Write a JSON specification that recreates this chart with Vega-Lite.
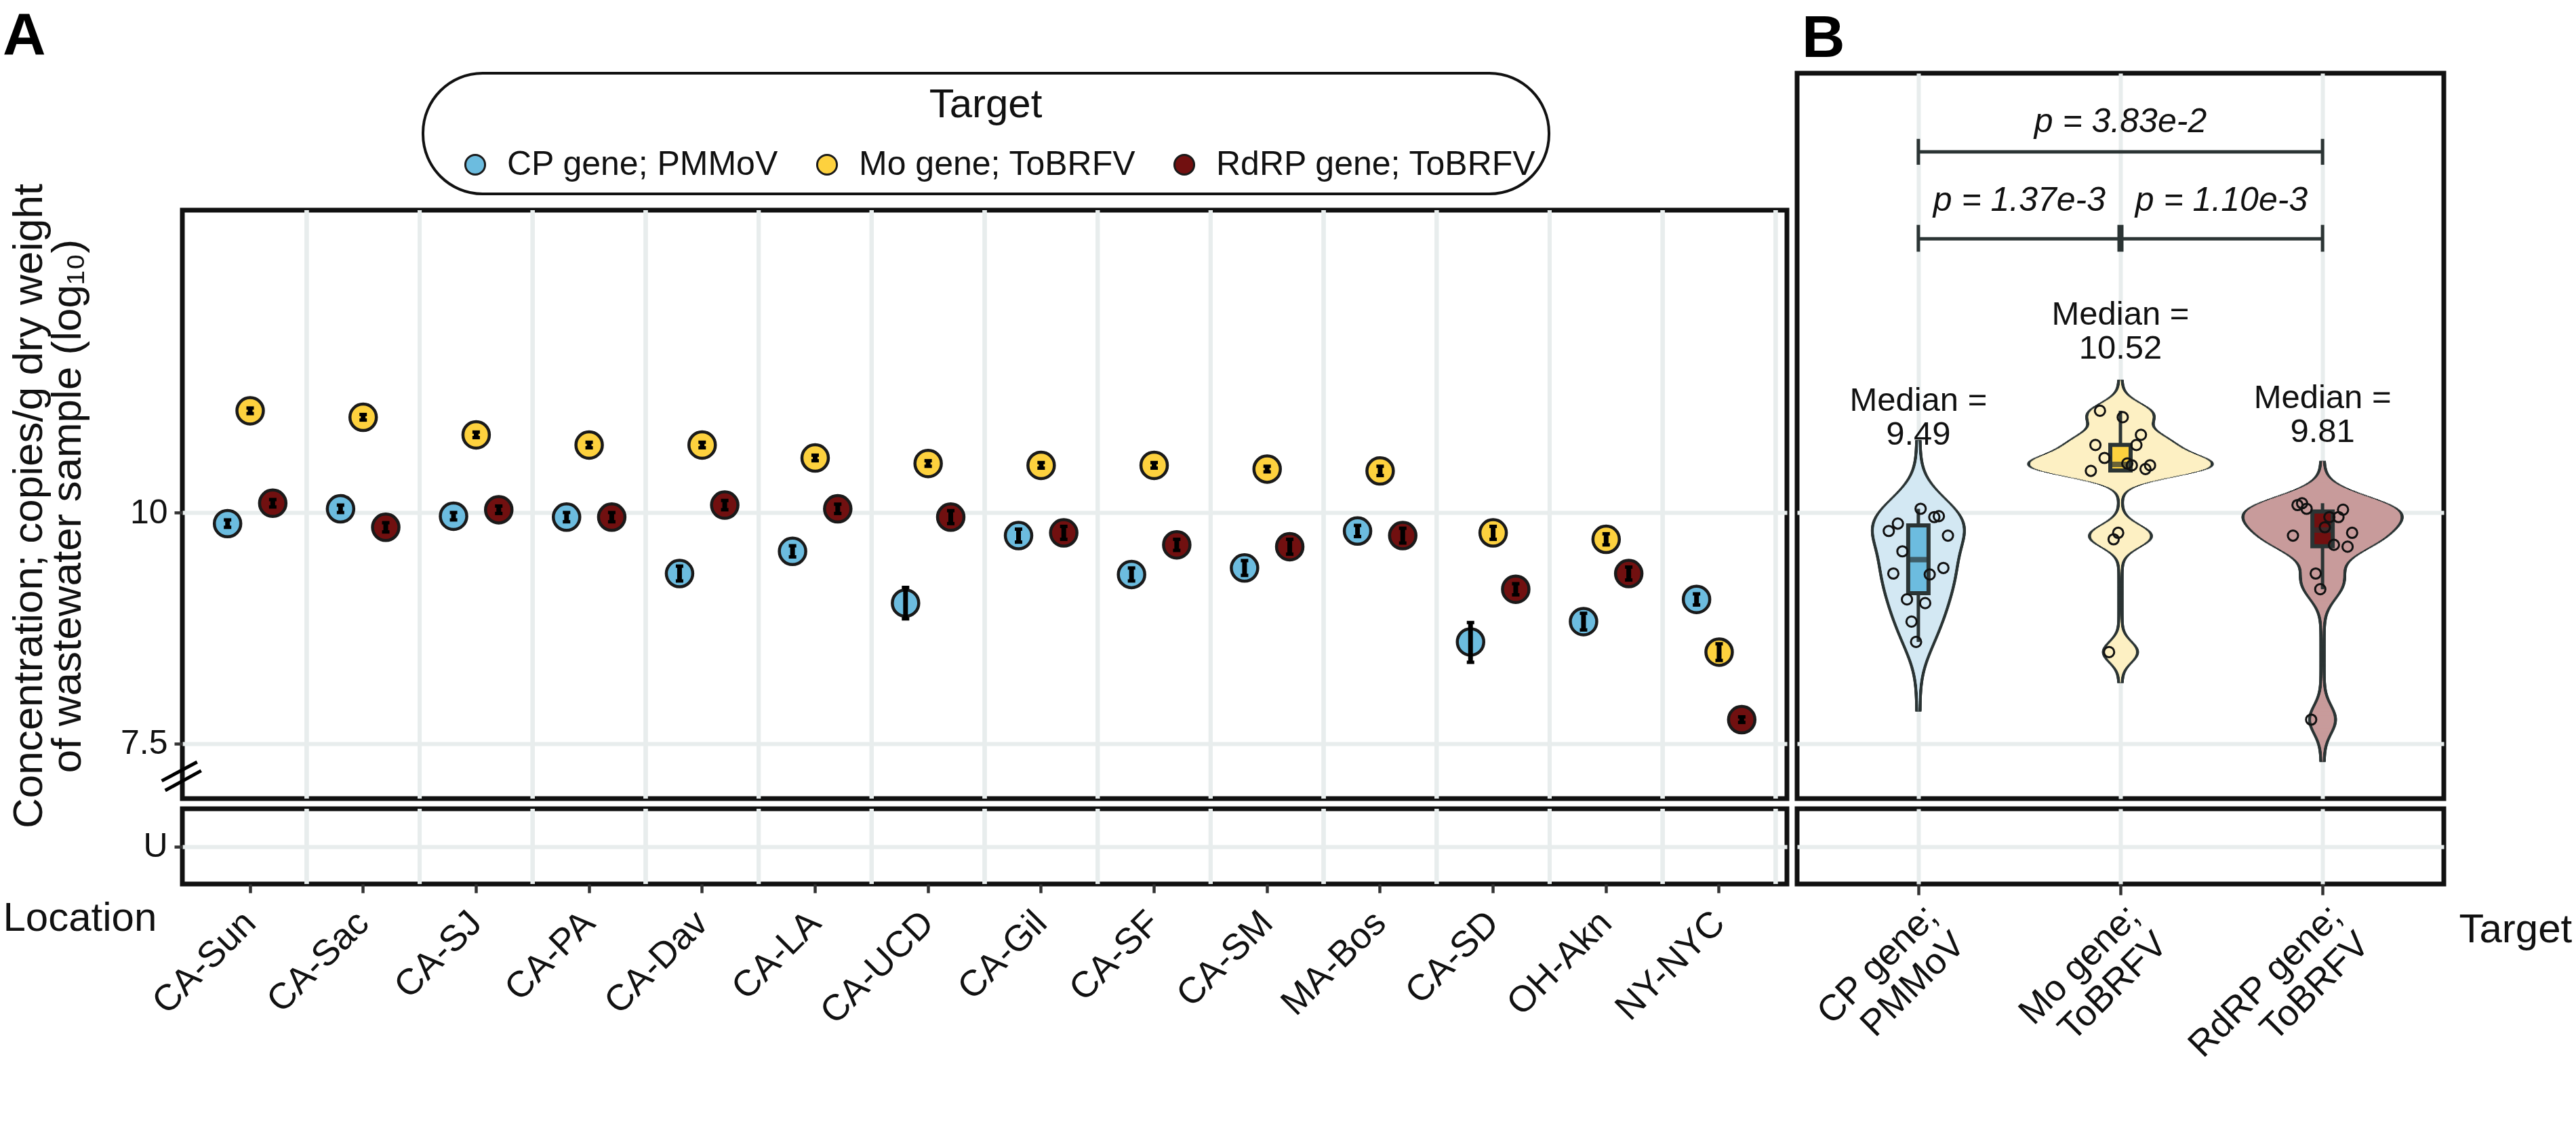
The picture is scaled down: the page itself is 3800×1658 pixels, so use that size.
{
  "$schema": "https://vega.github.io/schema/vega-lite/v6.json",
  "padding": {"left": 0, "top": 10, "right": 0, "bottom": 0},
  "background": "white",
  "config": {
    "font": "Liberation Sans",
    "view": {"stroke": "#111111", "strokeWidth": 7},
    "axis": {"labelFont": "Liberation Sans", "labelFontSize": 50, "labelColor": "#111111", "labelLimit": 1000, "titleFont": "Liberation Sans", "titleFontSize": 60, "titleFontWeight": "normal", "titleColor": "#111111", "titleLimit": 3000, "tickColor": "#333333", "tickWidth": 4.5, "domain": false, "gridColor": "#e8eded", "gridWidth": 6},
    "legend": {"strokeColor": "#111111", "strokeWidth": 4, "cornerRadius": 88, "padding": 18, "fillColor": "white", "labelFont": "Liberation Sans", "titleFont": "Liberation Sans"},
    "title": {"font": "Liberation Sans"}
  },
  "datasets": {
    "conc": [
      {"Location": "CA-Sun", "Target": "CP gene; PMMoV", "Conc": 9.88, "Lo": 9.84, "Hi": 9.92},
      {"Location": "CA-Sun", "Target": "Mo gene; ToBRFV", "Conc": 11.10, "Lo": 11.07, "Hi": 11.13},
      {"Location": "CA-Sun", "Target": "RdRP gene; ToBRFV", "Conc": 10.10, "Lo": 10.06, "Hi": 10.14},
      {"Location": "CA-Sac", "Target": "CP gene; PMMoV", "Conc": 10.04, "Lo": 10.00, "Hi": 10.08},
      {"Location": "CA-Sac", "Target": "Mo gene; ToBRFV", "Conc": 11.03, "Lo": 11.00, "Hi": 11.06},
      {"Location": "CA-Sac", "Target": "RdRP gene; ToBRFV", "Conc": 9.84, "Lo": 9.79, "Hi": 9.89},
      {"Location": "CA-SJ", "Target": "CP gene; PMMoV", "Conc": 9.96, "Lo": 9.92, "Hi": 10.00},
      {"Location": "CA-SJ", "Target": "Mo gene; ToBRFV", "Conc": 10.84, "Lo": 10.81, "Hi": 10.87},
      {"Location": "CA-SJ", "Target": "RdRP gene; ToBRFV", "Conc": 10.03, "Lo": 9.99, "Hi": 10.07},
      {"Location": "CA-PA", "Target": "CP gene; PMMoV", "Conc": 9.95, "Lo": 9.90, "Hi": 10.00},
      {"Location": "CA-PA", "Target": "Mo gene; ToBRFV", "Conc": 10.73, "Lo": 10.70, "Hi": 10.76},
      {"Location": "CA-PA", "Target": "RdRP gene; ToBRFV", "Conc": 9.95, "Lo": 9.90, "Hi": 10.00},
      {"Location": "CA-Dav", "Target": "CP gene; PMMoV", "Conc": 9.34, "Lo": 9.26, "Hi": 9.42},
      {"Location": "CA-Dav", "Target": "Mo gene; ToBRFV", "Conc": 10.73, "Lo": 10.70, "Hi": 10.76},
      {"Location": "CA-Dav", "Target": "RdRP gene; ToBRFV", "Conc": 10.08, "Lo": 10.03, "Hi": 10.13},
      {"Location": "CA-LA", "Target": "CP gene; PMMoV", "Conc": 9.58, "Lo": 9.52, "Hi": 9.64},
      {"Location": "CA-LA", "Target": "Mo gene; ToBRFV", "Conc": 10.59, "Lo": 10.56, "Hi": 10.62},
      {"Location": "CA-LA", "Target": "RdRP gene; ToBRFV", "Conc": 10.04, "Lo": 9.99, "Hi": 10.09},
      {"Location": "CA-UCD", "Target": "CP gene; PMMoV", "Conc": 9.02, "Lo": 8.85, "Hi": 9.19},
      {"Location": "CA-UCD", "Target": "Mo gene; ToBRFV", "Conc": 10.53, "Lo": 10.50, "Hi": 10.56},
      {"Location": "CA-UCD", "Target": "RdRP gene; ToBRFV", "Conc": 9.95, "Lo": 9.88, "Hi": 10.02},
      {"Location": "CA-Gil", "Target": "CP gene; PMMoV", "Conc": 9.75, "Lo": 9.68, "Hi": 9.82},
      {"Location": "CA-Gil", "Target": "Mo gene; ToBRFV", "Conc": 10.51, "Lo": 10.48, "Hi": 10.54},
      {"Location": "CA-Gil", "Target": "RdRP gene; ToBRFV", "Conc": 9.78, "Lo": 9.71, "Hi": 9.85},
      {"Location": "CA-SF", "Target": "CP gene; PMMoV", "Conc": 9.33, "Lo": 9.26, "Hi": 9.40},
      {"Location": "CA-SF", "Target": "Mo gene; ToBRFV", "Conc": 10.51, "Lo": 10.48, "Hi": 10.54},
      {"Location": "CA-SF", "Target": "RdRP gene; ToBRFV", "Conc": 9.65, "Lo": 9.59, "Hi": 9.71},
      {"Location": "CA-SM", "Target": "CP gene; PMMoV", "Conc": 9.40, "Lo": 9.32, "Hi": 9.48},
      {"Location": "CA-SM", "Target": "Mo gene; ToBRFV", "Conc": 10.47, "Lo": 10.44, "Hi": 10.50},
      {"Location": "CA-SM", "Target": "RdRP gene; ToBRFV", "Conc": 9.63, "Lo": 9.55, "Hi": 9.71},
      {"Location": "MA-Bos", "Target": "CP gene; PMMoV", "Conc": 9.80, "Lo": 9.74, "Hi": 9.86},
      {"Location": "MA-Bos", "Target": "Mo gene; ToBRFV", "Conc": 10.45, "Lo": 10.40, "Hi": 10.50},
      {"Location": "MA-Bos", "Target": "RdRP gene; ToBRFV", "Conc": 9.75, "Lo": 9.67, "Hi": 9.83},
      {"Location": "CA-SD", "Target": "CP gene; PMMoV", "Conc": 8.60, "Lo": 8.38, "Hi": 8.81},
      {"Location": "CA-SD", "Target": "Mo gene; ToBRFV", "Conc": 9.78, "Lo": 9.71, "Hi": 9.85},
      {"Location": "CA-SD", "Target": "RdRP gene; ToBRFV", "Conc": 9.17, "Lo": 9.11, "Hi": 9.23},
      {"Location": "OH-Akn", "Target": "CP gene; PMMoV", "Conc": 8.82, "Lo": 8.73, "Hi": 8.91},
      {"Location": "OH-Akn", "Target": "Mo gene; ToBRFV", "Conc": 9.71, "Lo": 9.65, "Hi": 9.77},
      {"Location": "OH-Akn", "Target": "RdRP gene; ToBRFV", "Conc": 9.34, "Lo": 9.27, "Hi": 9.41},
      {"Location": "NY-NYC", "Target": "CP gene; PMMoV", "Conc": 9.06, "Lo": 9.00, "Hi": 9.12},
      {"Location": "NY-NYC", "Target": "Mo gene; ToBRFV", "Conc": 8.49, "Lo": 8.40, "Hi": 8.58},
      {"Location": "NY-NYC", "Target": "RdRP gene; ToBRFV", "Conc": 7.76, "Lo": 7.73, "Hi": 7.79}
    ]
  },
  "spacing": 7,
  "resolve": {"scale": {"color": "independent", "size": "independent", "xOffset": "independent"}},
  "hconcat": [
    {
      "spacing": 15,
      "bounds": "flush",
      "resolve": {"scale": {"color": "independent", "xOffset": "independent"}},
      "vconcat": [
        {
          "width": 2367,
          "height": 187,
          "view": {"stroke": null, "fill": "white"},
          "title": {"text": "A", "anchor": "start", "frame": "group", "orient": "top", "offset": 8, "dx": -265, "fontSize": 88, "fontWeight": "bold", "color": "#000000"},
          "data": {"name": "conc"},
          "mark": {"type": "point", "filled": true, "opacity": 0, "size": 1},
          "encoding": {
            "color": {
              "field": "Target", "type": "nominal",
              "scale": {"domain": ["CP gene; PMMoV", "Mo gene; ToBRFV", "RdRP gene; ToBRFV"], "range": ["#6cbcdf", "#fdd13e", "#711010"]},
              "legend": {"orient": "none", "legendX": 355, "legendY": 0, "direction": "horizontal", "columns": 3, "title": "Target", "titleOrient": "top", "titleAnchor": "middle", "titleFontSize": 60, "titleFontWeight": "normal", "titleColor": "#111111", "titlePadding": 32, "titleLimit": 1000, "labelFontSize": 50, "labelColor": "#111111", "labelOffset": 22, "labelLimit": 1000, "symbolType": "circle", "symbolSize": 850, "symbolStrokeWidth": 3, "symbolStrokeColor": "#1a1a1a", "symbolOpacity": 1, "symbolOffset": 34, "columnPadding": 12}
            }
          }
        },
        {
          "width": 2367,
          "height": 868,
          "data": {"name": "conc"},
          "layer": [
            {
              "mark": {"type": "rule", "color": "#e8eded", "strokeWidth": 6},
              "encoding": {"x": {"field": "Location", "type": "nominal", "bandPosition": 1, "scale": {"type": "band", "domain": ["CA-Sun","CA-Sac","CA-SJ","CA-PA","CA-Dav","CA-LA","CA-UCD","CA-Gil","CA-SF","CA-SM","MA-Bos","CA-SD","OH-Akn","NY-NYC"], "paddingInner": 0, "paddingOuter": 0.1}, "axis": null}}
            },
            {
              "mark": {"type": "point", "filled": true, "size": 1520, "stroke": "#1a1a1a", "strokeWidth": 4.5, "opacity": 1},
              "encoding": {
                "x": {"field": "Location", "type": "nominal", "axis": null},
                "xOffset": {"field": "Target", "type": "nominal", "scale": {"domain": ["CP gene; PMMoV", "Mo gene; ToBRFV", "RdRP gene; ToBRFV"], "paddingInner": 0, "paddingOuter": 2.375}},
                "y": {"field": "Conc", "type": "quantitative", "scale": {"domain": [6.906, 13.27], "nice": false, "zero": false},
                  "axis": {"values": [7.5, 10], "format": "~g", "grid": true, "tickSize": 12, "labelPadding": 10, "title": ["Concentration; copies/g dry weight", "of wastewater sample (log₁₀)"], "titleX": -257, "titleY": 436, "titleAngle": 270, "titleBaseline": "top", "titleAlign": "center", "titleLineHeight": 57, "titleFontSize": 62}},
                "color": {"field": "Target", "type": "nominal", "scale": {"domain": ["CP gene; PMMoV", "Mo gene; ToBRFV", "RdRP gene; ToBRFV"], "range": ["#6cbcdf", "#fdd13e", "#711010"]}, "legend": null}
              }
            },
            {
              "mark": {"type": "rule", "color": "#000000", "strokeWidth": 7},
              "encoding": {
                "x": {"field": "Location", "type": "nominal", "axis": null},
                "xOffset": {"field": "Target", "type": "nominal"},
                "y": {"field": "Lo", "type": "quantitative"},
                "y2": {"field": "Hi"}
              }
            },
            {
              "mark": {"type": "point", "shape": "stroke", "filled": false, "color": "#000000", "size": 121, "strokeWidth": 5, "opacity": 1},
              "encoding": {
                "x": {"field": "Location", "type": "nominal", "axis": null},
                "xOffset": {"field": "Target", "type": "nominal"},
                "y": {"field": "Lo", "type": "quantitative"}
              }
            },
            {
              "mark": {"type": "point", "shape": "stroke", "filled": false, "color": "#000000", "size": 121, "strokeWidth": 5, "opacity": 1},
              "encoding": {
                "x": {"field": "Location", "type": "nominal", "axis": null},
                "xOffset": {"field": "Target", "type": "nominal"},
                "y": {"field": "Hi", "type": "quantitative"}
              }
            },
            {
              "data": {"values": [{}]},
              "mark": {"type": "point", "shape": "M-0.97,0.23L0.77,-0.7M-0.8,0.7L0.97,-0.27", "size": 3600, "filled": false, "color": "#000000", "strokeWidth": 5, "opacity": 1, "xOffset": -18},
              "encoding": {
                "x": {"datum": "CA-Sun", "type": "nominal", "bandPosition": 0, "axis": null},
                "y": {"datum": 7.148, "type": "quantitative"}
              }
            }
          ]
        },
        {
          "width": 2367,
          "height": 111,
          "data": {"name": "conc"},
          "layer": [
            {
              "mark": {"type": "rule", "color": "#e8eded", "strokeWidth": 6},
              "encoding": {"x": {"field": "Location", "type": "nominal", "bandPosition": 1, "scale": {"type": "band", "domain": ["CA-Sun","CA-Sac","CA-SJ","CA-PA","CA-Dav","CA-LA","CA-UCD","CA-Gil","CA-SF","CA-SM","MA-Bos","CA-SD","OH-Akn","NY-NYC"], "paddingInner": 0, "paddingOuter": 0.1}}}
            },
            {
              "mark": {"type": "point", "opacity": 0, "size": 1},
              "encoding": {
                "x": {"field": "Location", "type": "nominal",
                  "axis": {"orient": "bottom", "grid": false, "bandPosition": 0.5, "labelAngle": -45, "labelAlign": "right", "labelBaseline": "middle", "labelFontSize": 54, "labelPadding": 36, "tickSize": 13, "title": "Location", "titleX": -265, "titleY": 68, "titleAlign": "left", "titleBaseline": "alphabetic", "titleAngle": 0}},
                "y": {"datum": "U", "type": "nominal", "axis": {"grid": true, "title": null, "tickSize": 12, "labelPadding": 10, "labelAngle": 0}}
              }
            }
          ]
        }
      ]
    },
    {
      "spacing": 15,
      "bounds": "flush",
      "resolve": {"scale": {"color": "independent", "size": "independent", "xOffset": "independent"}},
      "vconcat": [
        {
          "width": 954,
          "height": 1070,
          "title": {"text": "B", "anchor": "start", "frame": "group", "orient": "top", "offset": 6, "dx": 7, "fontSize": 88, "fontWeight": "bold", "color": "#000000"},
          "data": {"name": "conc"},
          "resolve": {"scale": {"size": "independent"}},
          "layer": [
            {
              "layer": [
                {
                  "transform": [{"filter": {"field": "Target", "equal": "CP gene; PMMoV"}}, {"density": "Conc", "groupby": ["Target"], "bandwidth": 0.245, "extent": [7.855, 10.775], "steps": 420, "as": ["value", "density"]}],
                  "mark": {"type": "tick", "color": "#2b3434", "thickness": 2.5, "opacity": 1},
                  "encoding": {
                    "x": {"field": "Target", "type": "nominal", "scale": {"type": "point", "domain": ["CP gene; PMMoV", "Mo gene; ToBRFV", "RdRP gene; ToBRFV"], "padding": 0.6}},
                    "y": {"field": "value", "type": "quantitative", "scale": {"domain": [6.906, 14.75], "nice": false, "zero": false}},
                    "size": {"field": "density", "type": "quantitative", "scale": {"range": [9, 275], "zero": true}, "legend": null}
                  }
                },
                {
                  "transform": [{"filter": {"field": "Target", "equal": "Mo gene; ToBRFV"}}, {"density": "Conc", "groupby": ["Target"], "bandwidth": 0.109, "extent": [8.163, 11.427], "steps": 470, "as": ["value", "density"]}],
                  "mark": {"type": "tick", "color": "#2b3434", "thickness": 2.5, "opacity": 1},
                  "encoding": {
                    "x": {"field": "Target", "type": "nominal"},
                    "y": {"field": "value", "type": "quantitative"},
                    "size": {"field": "density", "type": "quantitative", "legend": null}
                  }
                },
                {
                  "transform": [{"filter": {"field": "Target", "equal": "RdRP gene; ToBRFV"}}, {"density": "Conc", "groupby": ["Target"], "bandwidth": 0.149, "extent": [7.31, 10.55], "steps": 470, "as": ["value", "density"]}],
                  "mark": {"type": "tick", "color": "#2b3434", "thickness": 2.5, "opacity": 1},
                  "encoding": {
                    "x": {"field": "Target", "type": "nominal"},
                    "y": {"field": "value", "type": "quantitative"},
                    "size": {"field": "density", "type": "quantitative", "legend": null}
                  }
                }
              ]
            },
            {
              "layer": [
                {
                  "transform": [{"filter": {"field": "Target", "equal": "CP gene; PMMoV"}}, {"density": "Conc", "groupby": ["Target"], "bandwidth": 0.245, "extent": [7.855, 10.775], "steps": 420, "as": ["value", "density"]}],
                  "mark": {"type": "tick", "color": "#d3e8f3", "thickness": 2.5, "opacity": 1},
                  "encoding": {
                    "x": {"field": "Target", "type": "nominal"},
                    "y": {"field": "value", "type": "quantitative"},
                    "size": {"field": "density", "type": "quantitative", "scale": {"range": [0, 266], "zero": true}, "legend": null}
                  }
                },
                {
                  "transform": [{"filter": {"field": "Target", "equal": "Mo gene; ToBRFV"}}, {"density": "Conc", "groupby": ["Target"], "bandwidth": 0.109, "extent": [8.163, 11.427], "steps": 470, "as": ["value", "density"]}],
                  "mark": {"type": "tick", "color": "#fdf0c3", "thickness": 2.5, "opacity": 1},
                  "encoding": {
                    "x": {"field": "Target", "type": "nominal"},
                    "y": {"field": "value", "type": "quantitative"},
                    "size": {"field": "density", "type": "quantitative", "legend": null}
                  }
                },
                {
                  "transform": [{"filter": {"field": "Target", "equal": "RdRP gene; ToBRFV"}}, {"density": "Conc", "groupby": ["Target"], "bandwidth": 0.149, "extent": [7.31, 10.55], "steps": 470, "as": ["value", "density"]}],
                  "mark": {"type": "tick", "color": "#c89b9b", "thickness": 2.5, "opacity": 1},
                  "encoding": {
                    "x": {"field": "Target", "type": "nominal"},
                    "y": {"field": "value", "type": "quantitative"},
                    "size": {"field": "density", "type": "quantitative", "legend": null}
                  }
                }
              ]
            },
            {
              "mark": {"type": "boxplot", "extent": 1.5, "size": 30, "outliers": false, "box": {"stroke": "#2b3434", "strokeWidth": 6}, "median": {"color": "#2b3434", "thickness": 8}, "rule": {"color": "#2b3434", "strokeWidth": 5}},
              "encoding": {
                "x": {"field": "Target", "type": "nominal"},
                "y": {"field": "Conc", "type": "quantitative"},
                "color": {"field": "Target", "type": "nominal", "scale": {"domain": ["CP gene; PMMoV", "Mo gene; ToBRFV", "RdRP gene; ToBRFV"], "range": ["#6cbcdf", "#fdd13e", "#711010"]}, "legend": null}
              }
            },
            {
              "mark": {"type": "point", "filled": false, "color": "#111111", "strokeWidth": 3, "size": 230, "opacity": 1},
              "encoding": {
                "x": {"field": "Target", "type": "nominal", "axis": {"labels": false, "ticks": false, "title": null, "grid": true}},
                "xOffset": {"field": "Location", "type": "nominal", "scale": {"domain": ["MA-Bos","CA-Dav","CA-Sun","CA-LA","NY-NYC","OH-Akn","CA-SD","CA-Sac","CA-UCD","CA-SF","CA-PA","CA-SJ","CA-SM","CA-Gil"], "range": [-47, 47]}},
                "y": {"field": "Conc", "type": "quantitative", "axis": {"values": [7.5, 10], "grid": true, "labels": false, "ticks": false, "title": null}}
              }
            },
            {
              "data": {"values": [{}]},
              "mark": {"type": "text", "text": ["Median =", "9.49"], "fontSize": 49, "lineHeight": 50, "align": "center", "baseline": "alphabetic", "color": "#111111"},
              "encoding": {"x": {"datum": "CP gene; PMMoV", "type": "nominal"}, "y": {"datum": 11.10, "type": "quantitative"}}
            },
            {
              "data": {"values": [{}]},
              "mark": {"type": "text", "text": ["Median =", "10.52"], "fontSize": 49, "lineHeight": 50, "align": "center", "baseline": "alphabetic", "color": "#111111"},
              "encoding": {"x": {"datum": "Mo gene; ToBRFV", "type": "nominal"}, "y": {"datum": 12.03, "type": "quantitative"}}
            },
            {
              "data": {"values": [{}]},
              "mark": {"type": "text", "text": ["Median =", "9.81"], "fontSize": 49, "lineHeight": 50, "align": "center", "baseline": "alphabetic", "color": "#111111"},
              "encoding": {"x": {"datum": "RdRP gene; ToBRFV", "type": "nominal"}, "y": {"datum": 11.13, "type": "quantitative"}}
            },
            {
              "data": {"values": [{}]},
              "mark": {"type": "rule", "color": "#2b3434", "strokeWidth": 5},
              "encoding": {"x": {"datum": "CP gene; PMMoV", "type": "nominal"}, "x2": {"datum": "RdRP gene; ToBRFV"}, "y": {"datum": 13.90, "type": "quantitative"}}
            },
            {
              "data": {"values": [{}]},
              "mark": {"type": "rule", "color": "#2b3434", "strokeWidth": 5},
              "encoding": {"x": {"datum": "CP gene; PMMoV", "type": "nominal"}, "x2": {"datum": "RdRP gene; ToBRFV"}, "y": {"datum": 12.96, "type": "quantitative"}}
            },
            {
              "data": {"values": [{}]},
              "mark": {"type": "rule", "color": "#2b3434", "strokeWidth": 5},
              "encoding": {"x": {"datum": "CP gene; PMMoV", "type": "nominal"}, "y": {"datum": 13.76, "type": "quantitative"}, "y2": {"datum": 14.04}}
            },
            {
              "data": {"values": [{}]},
              "mark": {"type": "rule", "color": "#2b3434", "strokeWidth": 5},
              "encoding": {"x": {"datum": "RdRP gene; ToBRFV", "type": "nominal"}, "y": {"datum": 13.76, "type": "quantitative"}, "y2": {"datum": 14.04}}
            },
            {
              "data": {"values": [{}]},
              "mark": {"type": "rule", "color": "#2b3434", "strokeWidth": 5},
              "encoding": {"x": {"datum": "CP gene; PMMoV", "type": "nominal"}, "y": {"datum": 12.82, "type": "quantitative"}, "y2": {"datum": 13.11}}
            },
            {
              "data": {"values": [{}]},
              "mark": {"type": "rule", "color": "#2b3434", "strokeWidth": 9},
              "encoding": {"x": {"datum": "Mo gene; ToBRFV", "type": "nominal"}, "y": {"datum": 12.82, "type": "quantitative"}, "y2": {"datum": 13.11}}
            },
            {
              "data": {"values": [{}]},
              "mark": {"type": "rule", "color": "#2b3434", "strokeWidth": 5},
              "encoding": {"x": {"datum": "RdRP gene; ToBRFV", "type": "nominal"}, "y": {"datum": 12.82, "type": "quantitative"}, "y2": {"datum": 13.11}}
            },
            {
              "data": {"values": [{}]},
              "mark": {"type": "text", "text": "p = 3.83e-2", "fontSize": 50, "fontStyle": "italic", "align": "center", "baseline": "middle", "color": "#111111"},
              "encoding": {"x": {"datum": "Mo gene; ToBRFV", "type": "nominal"}, "y": {"datum": 14.22, "type": "quantitative"}}
            },
            {
              "data": {"values": [{}]},
              "mark": {"type": "text", "text": "p = 1.37e-3", "fontSize": 50, "fontStyle": "italic", "align": "center", "baseline": "middle", "color": "#111111", "xOffset": 149},
              "encoding": {"x": {"datum": "CP gene; PMMoV", "type": "nominal"}, "y": {"datum": 13.37, "type": "quantitative"}}
            },
            {
              "data": {"values": [{}]},
              "mark": {"type": "text", "text": "p = 1.10e-3", "fontSize": 50, "fontStyle": "italic", "align": "center", "baseline": "middle", "color": "#111111", "xOffset": 149},
              "encoding": {"x": {"datum": "Mo gene; ToBRFV", "type": "nominal"}, "y": {"datum": 13.37, "type": "quantitative"}}
            }
          ]
        },
        {
          "width": 954,
          "height": 111,
          "data": {"name": "conc"},
          "mark": {"type": "point", "opacity": 0, "size": 1},
          "encoding": {
            "x": {"field": "Target", "type": "nominal", "scale": {"type": "point", "domain": ["CP gene; PMMoV", "Mo gene; ToBRFV", "RdRP gene; ToBRFV"], "padding": 0.6},
              "axis": {"orient": "bottom", "grid": true, "labelAngle": -45, "labelAlign": "right", "labelBaseline": "top", "labelFontSize": 54, "labelExpr": "split(replace(datum.label, '; ', ';|'), '|')", "labelLineHeight": 58, "labelPadding": 4, "tickSize": 16, "title": "Target", "titleX": 976, "titleY": 85, "titleAlign": "left", "titleBaseline": "alphabetic", "titleAngle": 0}},
            "y": {"datum": "U", "type": "nominal", "axis": {"grid": true, "labels": false, "ticks": false, "title": null}}
          }
        }
      ]
    }
  ]
}
